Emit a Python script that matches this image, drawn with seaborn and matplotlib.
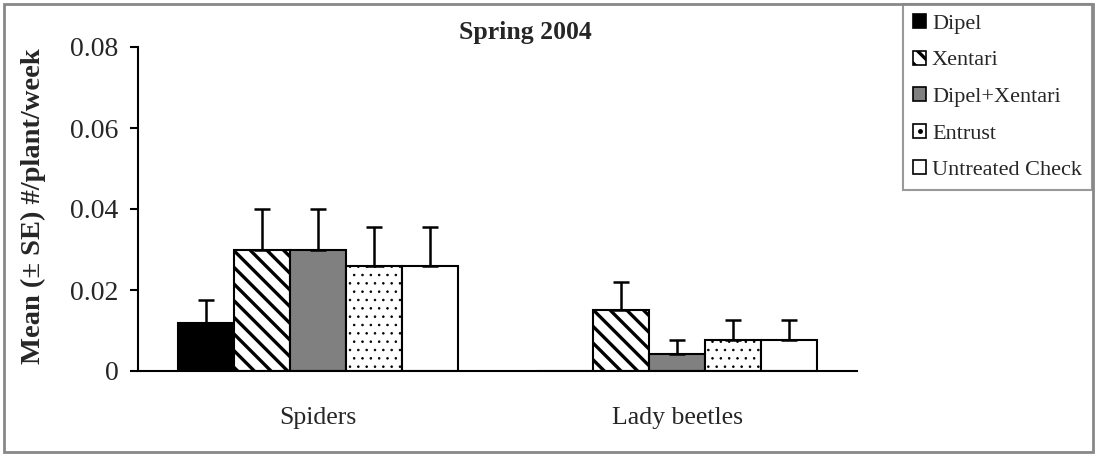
import matplotlib
matplotlib.use("Agg")
import matplotlib.pyplot as plt
import matplotlib.patches as mpatches
from matplotlib.lines import Line2D
from matplotlib.legend_handler import HandlerTuple
import seaborn as sns
import pandas as pd

# data
taxa = ["Spiders", "Lady beetles"]
treatments = ["Dipel", "Xentari", "Dipel+Xentari", "Entrust", "Untreated Check"]
spiders_mean = [0.0118, 0.030, 0.030, 0.026, 0.026]
spiders_se = [0.0057, 0.010, 0.010, 0.0096, 0.0096]
beetles_mean = [0.0, 0.0151, 0.0041, 0.0077, 0.0077]
beetles_se = [0.0, 0.0069, 0.0036, 0.0049, 0.0049]

colors = ["black", "white", "#808080", "white", "white"]
hatches = ["", "\\\\", "", "..", ""]
hatch_lw = [1.0, 2.4, 1.0, 0.6, 1.0]

rows = []
for taxon, means, ses in [(taxa[0], spiders_mean, spiders_se), (taxa[1], beetles_mean, beetles_se)]:
    for t, m, s in zip(treatments, means, ses):
        rows.append({"taxon": taxon, "treatment": t, "mean": m, "se": s})
df = pd.DataFrame(rows)

sns.set_theme(style="white")
plt.rcParams["font.family"] = ["Liberation Serif", "DejaVu Serif"]
plt.rcParams["hatch.linewidth"] = 2.4
plt.rcParams["hatch.color"] = "black"

fig = plt.figure(figsize=(10.98, 4.54), dpi=100)
ax = fig.add_axes([138 / 1098, 1 - 371 / 454, (857 - 138) / 1098, (371 - 47) / 454])

sns.barplot(data=df, x="taxon", y="mean", hue="treatment", hue_order=treatments,
            order=taxa, palette=colors, width=0.78, edgecolor="black",
            linewidth=1.5, errorbar=None, legend=False, ax=ax)

# hatches + upward-only error bars
for cont, t, h, hl in zip(ax.containers, treatments, hatches, hatch_lw):
    sub = df[df["treatment"] == t].set_index("taxon").loc[taxa]
    for bar, m, s in zip(cont.patches, sub["mean"], sub["se"]):
        bar.set_hatch(h)
        if hasattr(bar, "set_hatch_linewidth"):
            bar.set_hatch_linewidth(hl)
        if s > 0:
            xc = bar.get_x() + bar.get_width() / 2
            ax.errorbar(xc, m, yerr=[[0], [s]], fmt="none", ecolor="black",
                        elinewidth=1.8, capsize=6, capthick=1.8, zorder=1)

ax.set_xlim(-0.5, 1.5)
ax.set_ylim(0, 0.08)
ax.set_yticks([0, 0.02, 0.04, 0.06, 0.08])
ax.set_yticklabels(["0", "0.02", "0.04", "0.06", "0.08"], fontsize=20)
ax.set_xticks([0, 1])
ax.set_xticklabels(taxa, fontsize=18.5)
ax.set_xticks([-0.5, 0.5, 1.5], minor=True)
ax.tick_params(axis="x", which="major", length=0, pad=26)
ax.tick_params(axis="x", which="minor", direction="out", length=7, width=1.5, color="black")
ax.tick_params(axis="y", direction="out", length=6, width=1.5, color="black", left=True, pad=8)
ax.set_xlabel("")
ax.set_ylabel("Mean (± SE) #/plant/week", fontsize=20.5, fontweight="bold")
ax.yaxis.set_label_coords(-0.128, 0.51)
for side in ["top", "right"]:
    ax.spines[side].set_visible(False)
for side in ["left", "bottom"]:
    ax.spines[side].set_color("black")
    ax.spines[side].set_linewidth(1.5)

fig.text(525 / 1098, 1 - 33 / 454, "Spring 2004", ha="center", va="center",
         fontsize=18.5, fontweight="bold")

# legend handles: small squares, single dot for Entrust
handles = []
for t, c, h in zip(treatments, colors, hatches):
    p = mpatches.Patch(facecolor=c, edgecolor="black", hatch=h if t == "Xentari" else "",
                       linewidth=1.2)
    if hasattr(p, "set_hatch_linewidth"):
        p.set_hatch_linewidth(1.5)
    if t == "Entrust":
        dot = Line2D([], [], marker="o", markersize=2.5, color="black", linestyle="")
        handles.append((p, dot))
    else:
        handles.append(p)

leg = ax.legend(handles, treatments, loc="upper left",
                bbox_to_anchor=(903 / 1098, 1 - 4 / 454), bbox_transform=fig.transFigure,
                borderaxespad=0, fontsize=16, frameon=True, fancybox=False,
                handlelength=0.6, handleheight=0.6, handletextpad=0.25,
                labelspacing=0.75, borderpad=0.45,
                handler_map={tuple: HandlerTuple(ndivide=1, pad=0)})
leg.get_frame().set_edgecolor("#808080")
leg.get_frame().set_linewidth(1.5)

# outer chart frame
fig.patches.append(mpatches.Rectangle((4 / 1098, 2 / 454), 1089 / 1098, 448 / 454,
                                      transform=fig.transFigure, fill=False,
                                      edgecolor="#888888", linewidth=2))

fig.savefig("out.png", dpi=100)
